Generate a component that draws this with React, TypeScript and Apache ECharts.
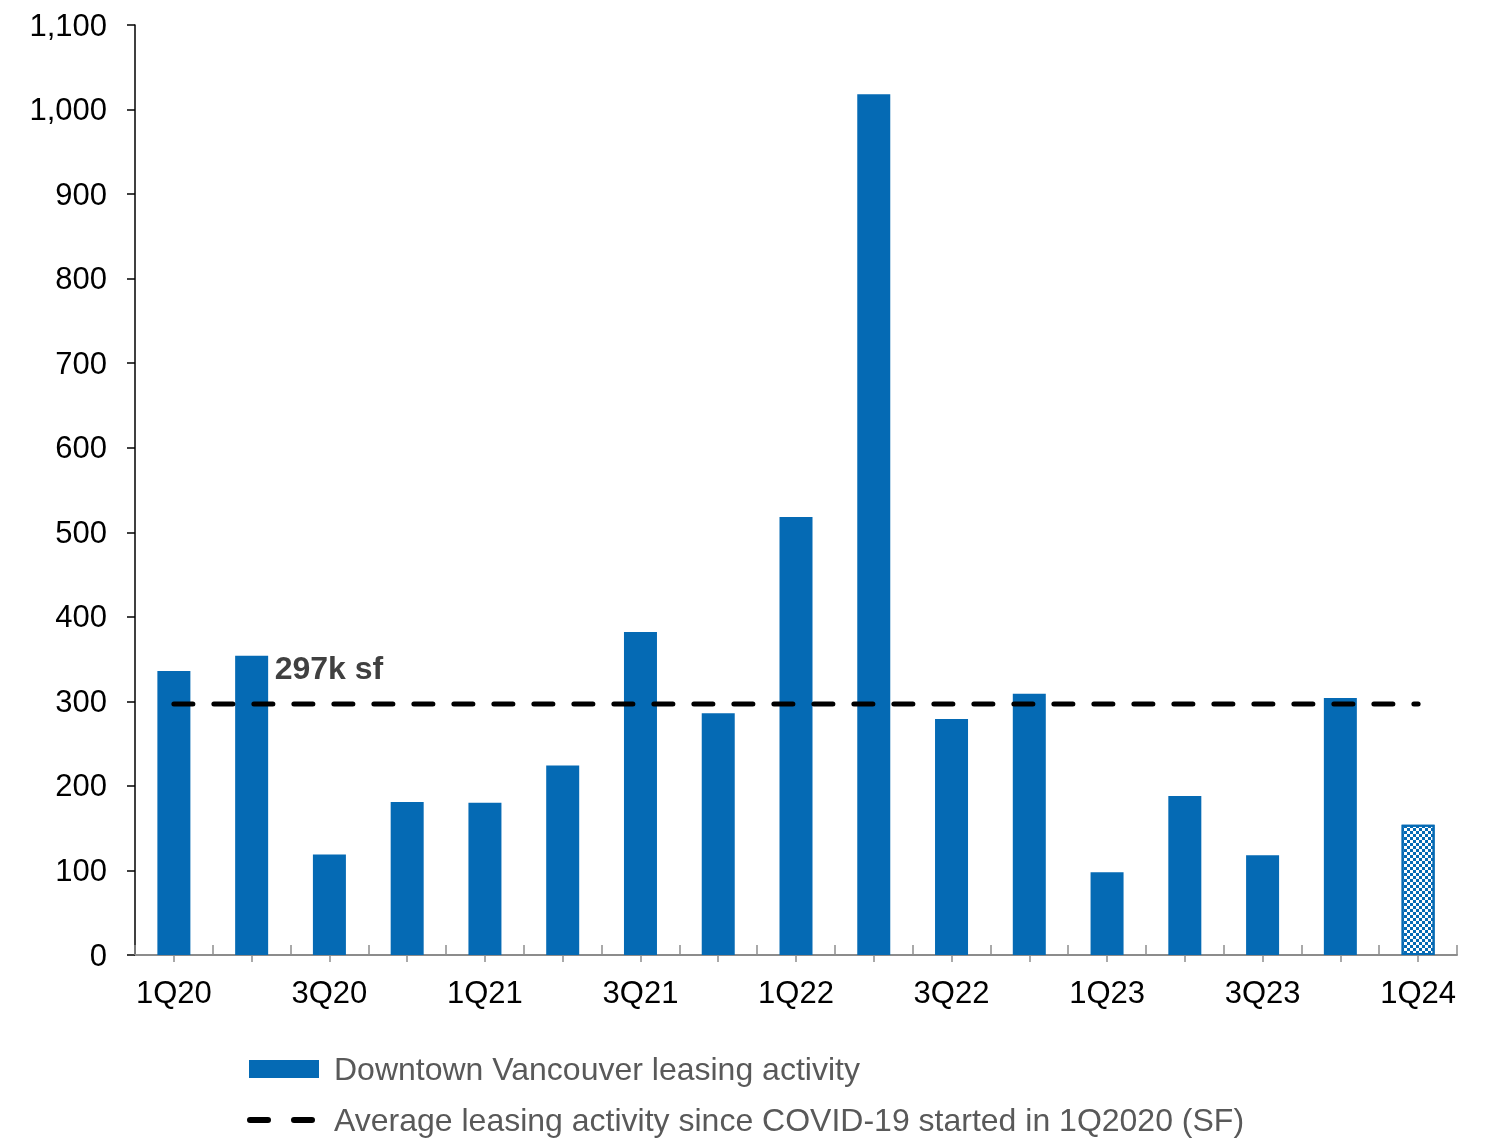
import React, { useEffect, useRef } from "react";
import * as echarts from "echarts";

const categories = ["1Q20","2Q20","3Q20","4Q20","1Q21","2Q21","3Q21","4Q21","1Q22","2Q22","3Q22","4Q22","1Q23","2Q23","3Q23","4Q23","1Q24"];
const leasing = [336, 354, 119, 181, 180, 224, 382, 286, 518, 1018, 279, 309, 98, 188, 118, 304, 154];
const averageValue = 297;
const averageLabel = "297k sf";
const seriesNames = ["Downtown Vancouver leasing activity", "Average leasing activity since COVID-19 started in 1Q2020 (SF)"];

const FONT = "Liberation Sans, Arial, sans-serif";
const BLUE = "#056ab4";

export default function App() {
  const ref = useRef<HTMLDivElement>(null);
  useEffect(() => {
    const chart = echarts.init(ref.current!, null, { renderer: "svg" });
    const barData = leasing.map((v, i) =>
      i === leasing.length - 1
        ? {
            value: v,
            itemStyle: {
              color: "#ffffff",
              borderColor: BLUE,
              borderWidth: 2,
              decal: {
                symbol: "rect",
                symbolSize: 1,
                color: BLUE,
                backgroundColor: "#ffffff",
                dashArrayX: [[3, 3], [0, 3, 3, 0]],
                dashArrayY: [3, 0],
                rotation: 0,
              },
            },
          }
        : v
    );
    const legendText = (pad: number) => ({ fontSize: 32, color: "#595959", fontFamily: FONT, padding: [0, 0, 0, pad] });
    chart.setOption({
      animation: false,
      textStyle: { fontFamily: FONT },
      grid: { left: 135, right: 32, top: 25, bottom: 183, containLabel: false },
      legend: [
        {
          left: 249,
          top: 1053,
          padding: 0,
          itemWidth: 70,
          itemHeight: 18,
          textStyle: legendText(10),
          data: [{ name: seriesNames[0], icon: "rect" }],
        },
        {
          left: 247,
          top: 1104,
          padding: 0,
          itemWidth: 68,
          itemHeight: 6,
          textStyle: legendText(14),
          data: [
            {
              name: seriesNames[1],
              icon: "path://M3,0h18a3,3 0 0 1 0,6h-18a3,3 0 0 1 0,-6z M47,0h18a3,3 0 0 1 0,6h-18a3,3 0 0 1 0,-6z",
              itemStyle: { color: "#000000" },
            },
          ],
        },
      ],
      xAxis: [
        {
          type: "category",
          data: categories,
          boundaryGap: true,
          axisLine: { lineStyle: { color: "#8c8c8c", width: 2 } },
          axisTick: { show: true, inside: true, length: 10, interval: 0, lineStyle: { color: "#8c8c8c", width: 1.5 } },
          axisLabel: { interval: 1, fontSize: 31, color: "#000000", margin: 22, fontFamily: FONT },
        },
        {
          type: "category",
          data: categories,
          position: "bottom",
          boundaryGap: true,
          axisLine: { show: false },
          axisTick: { show: true, alignWithLabel: true, inside: false, length: 7, interval: 0, lineStyle: { color: "#8c8c8c", width: 1.5 } },
          axisLabel: { show: false },
        },
      ],
      yAxis: {
        type: "value",
        min: 0,
        max: 1100,
        interval: 100,
        splitLine: { show: false },
        axisLine: { show: true, lineStyle: { color: "#000000", width: 1.5 } },
        axisTick: { show: true, length: 8, lineStyle: { color: "#000000", width: 1.5 } },
        axisLabel: {
          fontSize: 31,
          color: "#000000",
          margin: 28,
          fontFamily: FONT,
          formatter: (v: number) => v.toLocaleString("en-US"),
        },
      },
      series: [
        {
          name: seriesNames[0],
          type: "bar",
          data: barData,
          barWidth: 33,
          itemStyle: { color: BLUE },
        },
        {
          name: seriesNames[1],
          type: "line",
          data: categories.map(() => averageValue),
          symbol: "none",
          showSymbol: false,
          z: 5,
          lineStyle: { color: "#000000", width: 5, type: [19, 21], cap: "round" },
          itemStyle: { color: "#000000" },
          markPoint: {
            symbol: "circle",
            symbolSize: 0,
            data: [{ coord: [categories[1], averageValue] }],
            label: {
              show: true,
              formatter: averageLabel,
              position: "right",
              distance: 0,
              offset: [23, -36],
              fontSize: 32,
              fontWeight: "bold",
              color: "#404040",
              fontFamily: FONT,
            },
          },
        },
      ],
    });
    return () => chart.dispose();
  }, []);
  return <div ref={ref} style={{ position: "fixed", left: 0, top: 0, width: 1489, height: 1138 }} />;
}
